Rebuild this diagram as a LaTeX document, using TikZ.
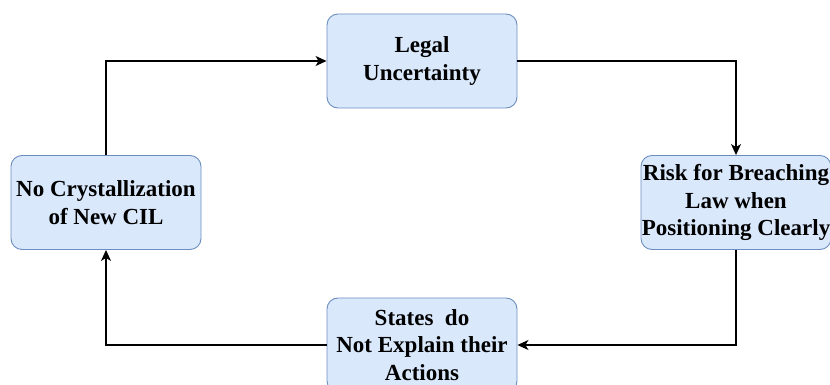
\documentclass[tikz,border=0pt]{standalone}
\usepackage{fontspec}
\setmainfont{Liberation Serif}
\usetikzlibrary{arrows.meta}
\definecolor{boxfill}{HTML}{DAE8FC}
\definecolor{boxline}{HTML}{6C8EBF}
\begin{document}
\begin{tikzpicture}[x=1pt,y=-1pt]
	
		\tikzset{
		  stage/.style={
			draw=boxline,
			fill=boxfill,
			line width=0.9pt,
			rounded corners=11pt,
			minimum width=190pt,
			minimum height=94pt,
			inner sep=0pt,
			align=center,
			font=\fontsize{23}{27.5}\selectfont\bfseries,
		  },
		  flow/.style={
			line width=1.2pt,
			-{Stealth[length=11pt,width=10pt,inset=3pt]},
		  },
		}
		\clip (0,0) rectangle (830,385);
		\fill[white] (0,0) rectangle (830,385);
		\node[stage] (uncertainty) at (422,61) {Legal\\Uncertainty};
		\node[stage] (risk) at (736,202.5) {Risk for Breaching\\Law when\\Positioning Clearly};
		\node[stage] (states) at (422,345) {States~ do\\Not Explain their\\Actions};
		\node[stage] (crystal) at (106,202.5) {No Crystallization\\of New CIL};
		\draw[flow] (crystal.north) |- (uncertainty.west);
		\draw[flow] (uncertainty.east) -| (risk.north);
		\draw[flow] (risk.south) |- (states.east);
		\draw[flow] (states.west) -| (crystal.south);
	
	\end{tikzpicture}
\end{document}
